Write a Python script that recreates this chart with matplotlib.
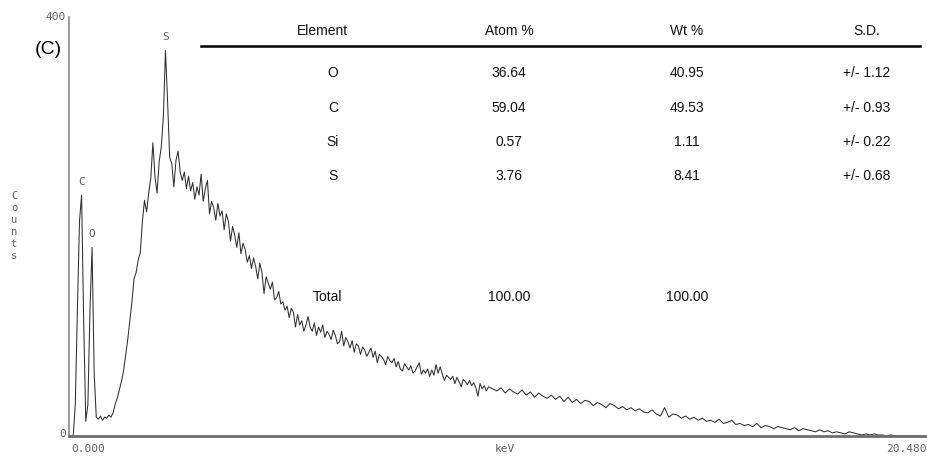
import numpy as np
import matplotlib
matplotlib.use("Agg")
import matplotlib.pyplot as plt
from matplotlib.lines import Line2D

# ---------------- data ----------------
# energies (keV) of the sampled channels: 0.05 keV steps to 10 keV, then 0.1 keV
energy_low = np.round(np.arange(0.0, 10.0, 0.05), 2)
energy_high = np.round(np.arange(10.0, 20.45, 0.1), 2)

counts_low = [
    # 0.00 - 0.95
    0, 0, 0, 30, 120, 205, 230, 110, 14, 30, 120, 180, 60, 18, 16, 19, 15, 18, 17, 20,
    # 1.00 - 1.95
    18, 22, 30, 36, 44, 52, 62, 77, 92, 110, 128, 150, 156, 168, 175, 205, 225, 214, 232, 246,
    # 2.00 - 2.95
    280, 247, 232, 262, 276, 305, 368, 320, 266, 260, 238, 263, 272, 252, 244, 252, 236, 248, 234, 242,
    # 3.00 - 3.95
    226, 238, 230, 250, 224, 236, 244, 212, 224, 218, 206, 222, 210, 215, 197, 212, 205, 186, 200, 192,
    # 4.00 - 4.95
    180, 194, 174, 184, 178, 166, 172, 160, 170, 162, 150, 165, 156, 136, 152, 146, 140, 147, 130, 132,
    # 5.00 - 5.95
    138, 126, 128, 120, 124, 113, 122, 118, 104, 116, 106, 110, 100, 106, 114, 104, 100, 108, 96, 104,
    # 6.00 - 6.95
    99, 106, 94, 100, 97, 92, 101, 96, 88, 90, 100, 86, 94, 90, 84, 91, 80, 88, 86, 78,
    # 7.00 - 7.95
    85, 82, 76, 80, 84, 75, 81, 70, 78, 76, 73, 68, 76, 72, 70, 74, 66, 71, 64, 62,
    # 8.00 - 8.95
    69, 66, 63, 67, 60, 62, 66, 70, 59, 63, 60, 64, 57, 63, 58, 68, 60, 66, 59, 53,
    # 9.00 - 9.95
    58, 56, 54, 57, 50, 56, 52, 47, 54, 52, 49, 53, 48, 51, 46, 38, 50, 45, 48, 43,
]

counts_high = [
    # 10.0 - 10.9
    47, 45, 43, 46, 41, 45, 42, 40, 44, 39,
    # 11.0 - 11.9
    42, 37, 41, 38, 36, 39, 35, 38, 33, 37,
    # 12.0 - 12.9
    32, 35, 31, 34, 33, 29, 32, 30, 27, 31,
    # 13.0 - 13.9
    29, 26, 28, 25, 27, 24, 26, 23, 22, 25,
    # 14.0 - 14.9
    21, 19, 27, 18, 21, 20, 17, 19, 16, 18,
    # 15.0 - 15.9
    15, 17, 14, 15, 13, 16, 12, 13, 15, 11,
    # 16.0 - 16.9
    12, 10, 11, 9, 12, 8, 10, 9, 7, 9,
    # 17.0 - 17.9
    8, 7, 6, 8, 5, 7, 6, 5, 4, 6,
    # 18.0 - 18.9
    4, 5, 3, 4, 3, 2, 4, 3, 2, 1,
    # 19.0 - 19.9
    2, 1, 2, 1, 1, 0, 1, 0, 0, 0,
    # 20.0 - 20.4
    0, 0, 0, 0, 0,
]

peak_labels = ["C", "O", "S"]
peak_energy = [0.30, 0.55, 2.30]
peak_counts = [230, 180, 368]

elements = ["O", "C", "Si", "S"]
atom_pct = ["36.64", "59.04", "0.57", "3.76"]
wt_pct = ["40.95", "49.53", "1.11", "8.41"]
sd = ["+/- 1.12", "+/- 0.93", "+/- 0.22", "+/- 0.68"]
total_atom = "100.00"
total_wt = "100.00"

energy = np.concatenate([energy_low, energy_high])
counts = np.array(counts_low + counts_high, dtype=float)

# ---------------- figure ----------------
W, H = 928, 459
fig = plt.figure(figsize=(W / 100, H / 100), dpi=100)
fig.patch.set_facecolor("white")


def fx(x):
    return x / W


def fy(y):
    return 1 - y / H


ax = fig.add_axes([fx(69), fy(436), fx(928) - fx(69), fy(17) - fy(436)])
ax.plot(energy, counts, color="#303030", lw=0.75)
ax.set_xlim(0, 20.48)
ax.set_ylim(0, 400)
for s in ["top", "right"]:
    ax.spines[s].set_visible(False)
ax.spines["left"].set_color("#8a8a8a")
ax.spines["left"].set_linewidth(1.2)
ax.spines["bottom"].set_color("#6e6e6e")
ax.spines["bottom"].set_linewidth(2.0)
ax.set_xticks([])
ax.set_yticks([])

mono = dict(family="DejaVu Sans Mono", color="#606060", fontsize=8)
fig.text(fx(66), fy(17), "400", ha="right", va="center", **mono)
fig.text(fx(66), fy(434), "0", ha="right", va="center", **mono)
fig.text(fx(71), fy(449), "0.000", ha="left", va="center", **mono)
fig.text(fx(505), fy(449), "keV", ha="center", va="center", **mono)
fig.text(fx(927), fy(449), "20.480", ha="right", va="center", **mono)
fig.text(fx(14), fy(226), "\n".join("Counts"), ha="center", va="center",
         linespacing=1.25, family="DejaVu Sans Mono", color="#606060", fontsize=7.5)

for lab, e, c in zip(peak_labels, peak_energy, peak_counts):
    ax.text(e, c + 8, lab, ha="center", va="bottom", **mono)

fig.text(fx(48), fy(50), "(C)", ha="center", va="center", fontsize=14,
         family="Liberation Sans", color="black")

# ---------------- table ----------------
tf = dict(family="Liberation Sans", fontsize=10, color="#111111")
cols = [322, 509, 687, 867]
fig.text(fx(cols[0]), fy(31), "Element", ha="center", va="center", **tf)
fig.text(fx(cols[1]), fy(31), "Atom %", ha="center", va="center", **tf)
fig.text(fx(cols[2]), fy(31), "Wt %", ha="center", va="center", **tf)
fig.text(fx(cols[3]), fy(31), "S.D.", ha="center", va="center", **tf)
fig.add_artist(Line2D([fx(201), fx(920)], [fy(46), fy(46)], color="black", lw=1.8))

row_y = [73, 108, 142, 176]
for el, a, w, s, y in zip(elements, atom_pct, wt_pct, sd, row_y):
    fig.text(fx(333), fy(y), el, ha="center", va="center", **tf)
    fig.text(fx(cols[1]), fy(y), a, ha="center", va="center", **tf)
    fig.text(fx(cols[2]), fy(y), w, ha="center", va="center", **tf)
    fig.text(fx(cols[3]), fy(y), s, ha="center", va="center", **tf)

fig.text(fx(313), fy(297), "Total", ha="left", va="center", **tf)
fig.text(fx(cols[1]), fy(297), total_atom, ha="center", va="center", **tf)
fig.text(fx(cols[2]), fy(297), total_wt, ha="center", va="center", **tf)

fig.savefig("out.png", dpi=100)
